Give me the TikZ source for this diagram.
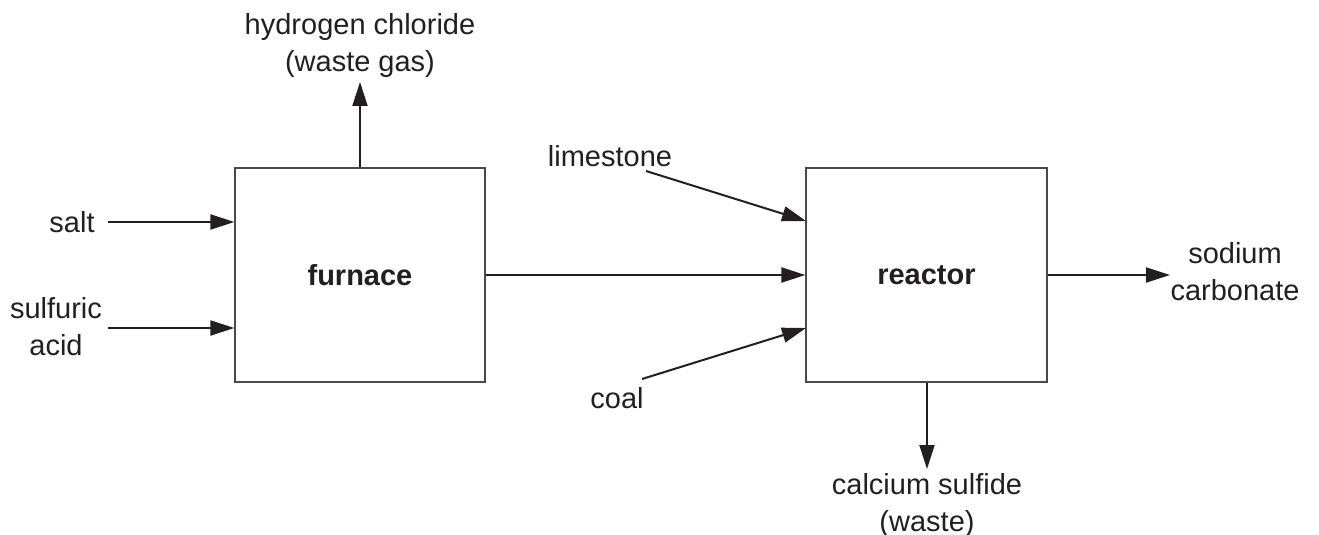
\documentclass[tikz,border=0pt]{standalone}
\usepackage{fontspec}
\setmainfont{Liberation Sans}
\usetikzlibrary{arrows.meta}
\definecolor{ink}{HTML}{231F20}
\definecolor{boxline}{HTML}{4A4A4A}
\tikzset{
  lbl/.style={inner sep=0pt, text=ink, align=center, font=\fontsize{14.5}{18.5}\selectfont},
  blk/.style={draw=boxline, line width=0.6pt, inner sep=0pt, text=ink, font=\fontsize{14.5}{18}\selectfont\bfseries},
  arr/.style={draw=ink, line width=1pt, -{Triangle[length=12pt,width=7.5pt]}}
}
\begin{document}
\begin{tikzpicture}[x=0.5pt,y=-0.5pt]
\useasboundingbox (0,0) rectangle (1319,535);
% blocks
\node[blk, minimum width=125pt, minimum height=107pt] (furnace) at (360,275) {furnace};
\node[blk, minimum width=120.5pt, minimum height=107pt] (reactor) at (926.5,275) {reactor};
% labels
\node[lbl] (hcl) at (360,46) {hydrogen chloride\\(waste gas)};
\node[lbl, anchor=east] (salt) at (95,222) {salt};
\node[lbl] (acid) at (56,327) {sulfuric\\acid};
\node[lbl] (lime) at (610,156) {limestone};
\node[lbl] (coal) at (617,398) {coal};
\node[lbl] (soda) at (1235,272) {sodium\\carbonate};
\node[lbl] (cas) at (927,505) {calcium sulfide\\(waste)};
% connector ends
\coordinate (hclT) at (360,82);
\coordinate (saltS) at (108,222);
\coordinate (acidS) at (108,328);
\coordinate (limeS) at (646,171);
\coordinate (limeE) at (806,221);
\coordinate (coalS) at (642,379);
\coordinate (coalE) at (806,328);
\coordinate (sodaE) at (1170,275);
\coordinate (casE) at (927,469);
% connectors
\draw[arr] (furnace.north) -- (hclT);
\draw[arr] (saltS) -- (saltS -| furnace.west);
\draw[arr] (acidS) -- (acidS -| furnace.west);
\draw[arr] (furnace.east) -- (reactor.west);
\draw[arr] (limeS) -- (limeE);
\draw[arr] (coalS) -- (coalE);
\draw[arr] (reactor.east) -- (sodaE);
\draw[arr] (casE |- reactor.south) -- (casE);
\end{tikzpicture}
\end{document}
